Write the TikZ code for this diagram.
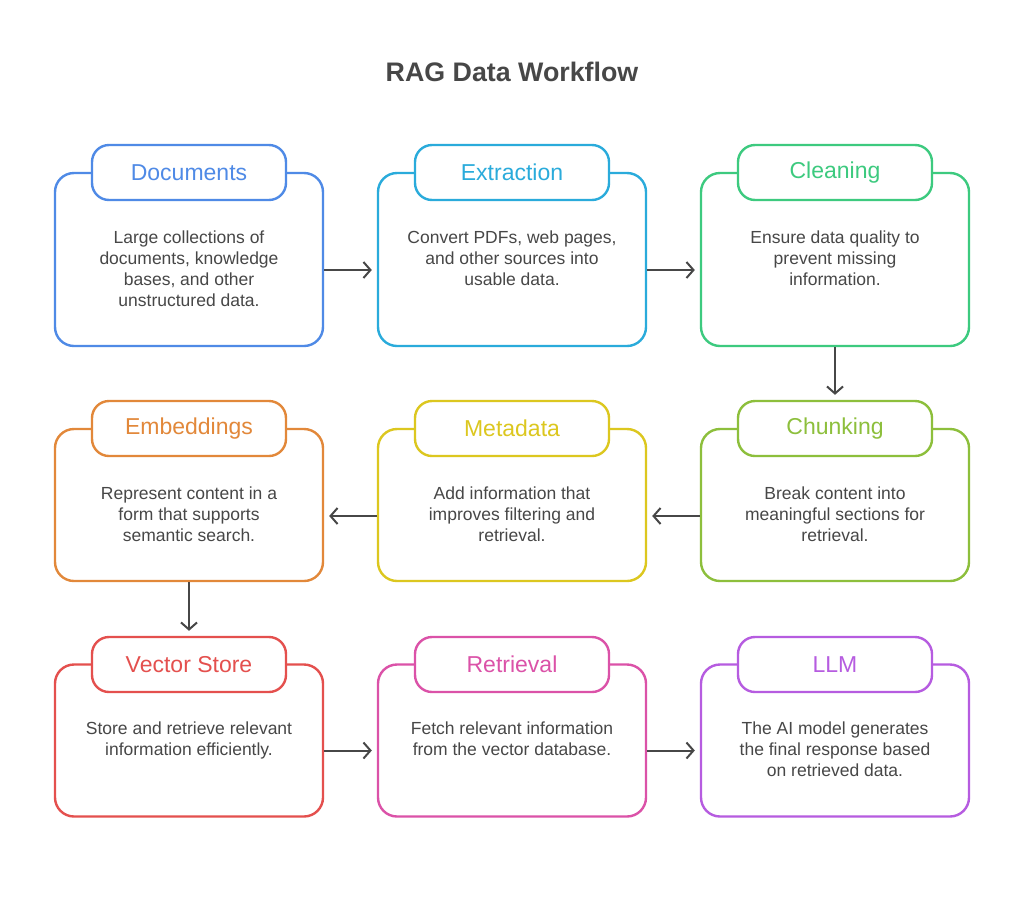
\documentclass[tikz,border=0pt]{standalone}
\usepackage{fontspec}
\setmainfont{Liberation Sans}
\usetikzlibrary{arrows.meta,calc}
\definecolor{cblue}{HTML}{4F8AE6}
\definecolor{ccyan}{HTML}{2AABDB}
\definecolor{cgreen}{HTML}{3DCA7F}
\definecolor{clime}{HTML}{8DBF3C}
\definecolor{cyellow}{HTML}{DCC71F}
\definecolor{corange}{HTML}{E2883A}
\definecolor{cred}{HTML}{E4504E}
\definecolor{cpink}{HTML}{DB52A8}
\definecolor{cpurple}{HTML}{B65CE0}
\definecolor{txt}{HTML}{474747}
\definecolor{arrc}{HTML}{474747}
\tikzset{
  mainbox/.style={draw=#1, line width=2.4pt, rounded corners=19pt, minimum width=268pt, minimum height=173pt, inner sep=0pt},
  mainbox2/.style={draw=#1, line width=2.4pt, rounded corners=19pt, minimum width=268pt, minimum height=152pt, inner sep=0pt},
  titlebox/.style={draw=#1, fill=white, line width=2.4pt, rounded corners=17pt, minimum width=194pt, minimum height=55pt, inner sep=0pt, text=#1, font=\fontsize{23}{26}\selectfont},
  bodytext/.style={anchor=north, inner sep=0pt, align=center, text=txt, font=\fontsize{17.5}{21}\selectfont},
  arr/.style={draw=arrc, line width=2pt, -{Straight Barb[length=7pt,width=16pt,line width=2pt]}},
}
\begin{document}
\begin{tikzpicture}[x=1pt,y=-1pt]
\useasboundingbox[fill=white] (0,0) rectangle (1024,900);
\node[text=txt, font=\bfseries\fontsize{26.8}{30}\selectfont] (title) at (512,72) {RAG Data Workflow};

% Row 1
\node[mainbox=cblue] (docs) at (189,259.5) {};
\node[titlebox=cblue] (docsT) at (189,172.5) {Documents};
\node[bodytext] (docsB) at (189,230.5) {Large collections of\\documents, knowledge\\bases, and other\\unstructured data.};

\node[mainbox=ccyan] (extr) at (512,259.5) {};
\node[titlebox=ccyan] (extrT) at (512,172.5) {Extraction};
\node[bodytext] (extrB) at (512,230.5) {Convert PDFs, web pages,\\and other sources into\\usable data.};

\node[mainbox=cgreen] (clean) at (835,259.5) {};
\node[titlebox=cgreen] (cleanT) at (835,172.5) {Cleaning};
\node[bodytext] (cleanB) at (835,230.5) {Ensure data quality to\\prevent missing\\information.};

% Row 2
\node[mainbox2=corange] (emb) at (189,505) {};
\node[titlebox=corange] (embT) at (189,428.5) {Embeddings};
\node[bodytext] (embB) at (189,486.5) {Represent content in a\\form that supports\\semantic search.};

\node[mainbox2=cyellow] (meta) at (512,505) {};
\node[titlebox=cyellow] (metaT) at (512,428.5) {Metadata};
\node[bodytext] (metaB) at (512,486.5) {Add information that\\improves filtering and\\retrieval.};

\node[mainbox2=clime] (chunk) at (835,505) {};
\node[titlebox=clime] (chunkT) at (835,428.5) {Chunking};
\node[bodytext] (chunkB) at (835,486.5) {Break content into\\meaningful sections for\\retrieval.};

% Row 3
\node[mainbox2=cred] (vec) at (189,740.5) {};
\node[titlebox=cred] (vecT) at (189,664.5) {Vector Store};
\node[bodytext] (vecB) at (189,721.5) {Store and retrieve relevant\\information efficiently.};

\node[mainbox2=cpink] (retr) at (512,740.5) {};
\node[titlebox=cpink] (retrT) at (512,664.5) {Retrieval};
\node[bodytext] (retrB) at (512,721.5) {Fetch relevant information\\from the vector database.};

\node[mainbox2=cpurple] (llm) at (835,740.5) {};
\node[titlebox=cpurple] (llmT) at (835,664.5) {LLM};
\node[bodytext] (llmB) at (835,721.5) {The AI model generates\\the final response based\\on retrieved data.};

% Arrows
\draw[arr] ([yshift=-10.5pt]docs.east) -- ([yshift=-10.5pt,xshift=-5pt]extr.west);
\draw[arr] ([yshift=-10.5pt]extr.east) -- ([yshift=-10.5pt,xshift=-5pt]clean.west);
\draw[arr] (clean.south) -- ([yshift=5pt]chunkT.north);
\draw[arr] ([yshift=-11pt]chunk.west) -- ([yshift=-11pt,xshift=5pt]meta.east);
\draw[arr] ([yshift=-11pt]meta.west) -- ([yshift=-11pt,xshift=5pt]emb.east);
\draw[arr] (emb.south) -- ([yshift=5pt]vecT.north);
\draw[arr] ([yshift=-10pt]vec.east) -- ([yshift=-10pt,xshift=-5pt]retr.west);
\draw[arr] ([yshift=-10pt]retr.east) -- ([yshift=-10pt,xshift=-5pt]llm.west);
\end{tikzpicture}
\end{document}
